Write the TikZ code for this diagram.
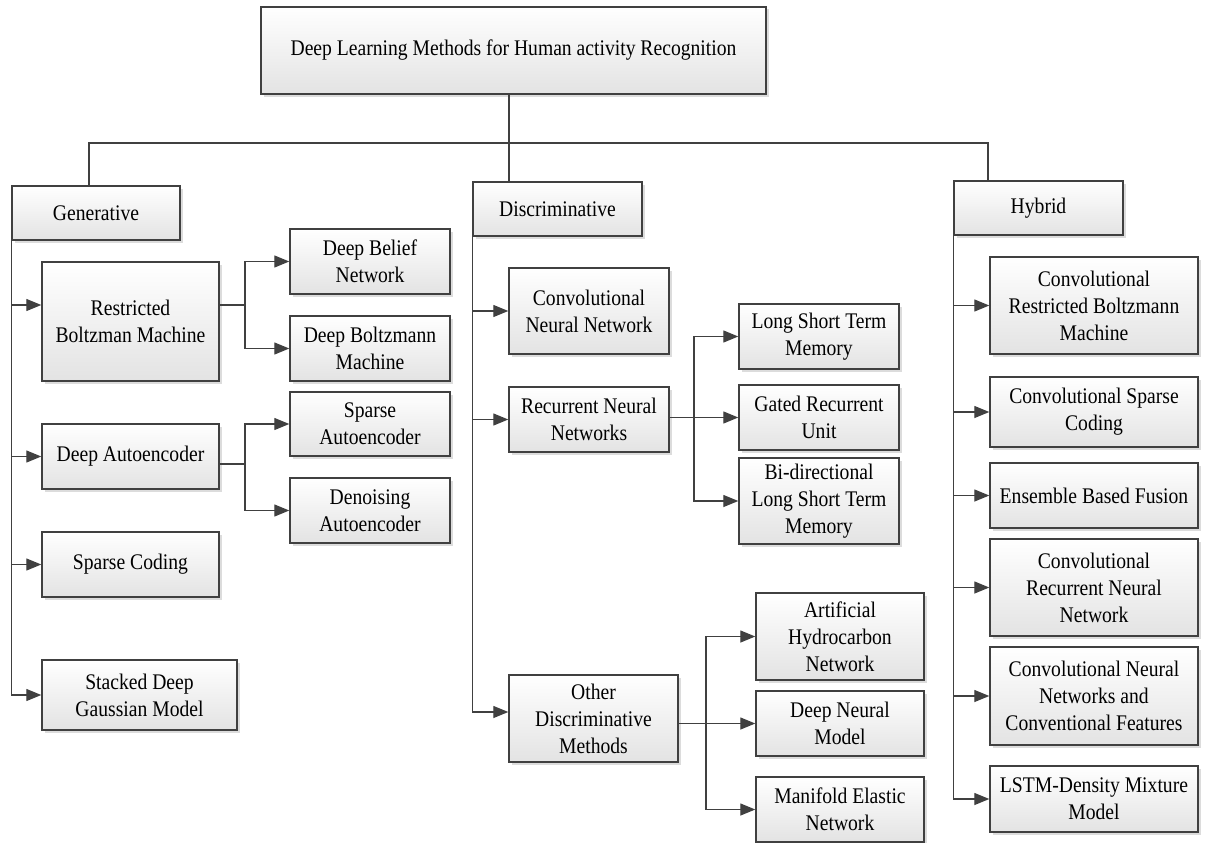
\documentclass[tikz,border=0pt]{standalone}
\usepackage{fontspec}
\setmainfont{Liberation Serif}[FakeStretch=0.88]
\usetikzlibrary{arrows.meta,shadows}
\definecolor{lc}{HTML}{404040}
\begin{document}
\begin{tikzpicture}[x=1pt,y=-1pt,
  box/.style={draw=lc, line width=1.4pt, top color=white, bottom color=black!11,
    align=center, inner sep=2pt, font=\fontsize{22.3}{27}\selectfont,
    drop shadow={shadow xshift=2.5pt, shadow yshift=-2.5pt, fill=black!30, opacity=0.45}},
  ln/.style={draw=lc, line width=1.3pt},
  arr/.style={ln, -{Triangle[length=15pt,width=12pt]}}]
\useasboundingbox (0,0) rectangle (1207,843);
% top
\node[box, minimum width=505pt, minimum height=87pt] (top) at (513.5,50.5) {Deep Learning Methods for Human activity Recognition};
% categories
\node[box, minimum width=168pt, minimum height=54pt] (gen) at (96,213) {Generative};
\node[box, minimum width=169pt, minimum height=54pt] (disc) at (557.5,209) {Discriminative};
\node[box, minimum width=169pt, minimum height=54pt] (hyb) at (1038.5,208) {Hybrid};
% generative
\node[box, minimum width=177pt, minimum height=119pt] (rbm) at (130.5,321.5) {Restricted\\Boltzman Machine};
\node[box, minimum width=160pt, minimum height=65pt] (dbn) at (370,261.5) {Deep Belief\\Network};
\node[box, minimum width=160pt, minimum height=65pt] (dbm) at (370,348.5) {Deep Boltzmann\\Machine};
\node[box, minimum width=177pt, minimum height=65pt] (dae) at (130.5,456.5) {Deep Autoencoder};
\node[box, minimum width=160pt, minimum height=64pt] (sae) at (370,424) {Sparse\\Autoencoder};
\node[box, minimum width=160pt, minimum height=65pt] (dnae) at (370,510.5) {Denoising\\Autoencoder};
\node[box, minimum width=177pt, minimum height=65pt] (sc) at (130.5,564.5) {Sparse Coding};
\node[box, minimum width=195pt, minimum height=70pt] (sdgm) at (139.5,695) {Stacked Deep\\Gaussian Model};
% discriminative
\node[box, minimum width=160pt, minimum height=86pt] (cnn) at (589,311) {Convolutional\\Neural Network};
\node[box, minimum width=160pt, minimum height=65pt] (rnn) at (589,419.5) {Recurrent Neural\\Networks};
\node[box, minimum width=160pt, minimum height=65pt] (lstm) at (819,336.5) {Long Short Term\\Memory};
\node[box, minimum width=160pt, minimum height=65pt] (gru) at (819,417.5) {Gated Recurrent\\Unit};
\node[box, minimum width=160pt, minimum height=86pt] (bilstm) at (819,501) {Bi-directional\\Long Short Term\\Memory};
\node[box, minimum width=169pt, minimum height=87pt] (other) at (593.5,718.5) {Other\\Discriminative\\Methods};
\node[box, minimum width=168pt, minimum height=87pt] (ahn) at (840,636.5) {Artificial\\Hydrocarbon\\Network};
\node[box, minimum width=168pt, minimum height=65pt] (dnm) at (840,723.5) {Deep Neural\\Model};
\node[box, minimum width=168pt, minimum height=65pt] (men) at (840,809.5) {Manifold Elastic\\Network};
% hybrid
\node[box, minimum width=208pt, minimum height=97pt] (crbm) at (1094,305.5) {Convolutional\\Restricted Boltzmann\\Machine};
\node[box, minimum width=208pt, minimum height=70pt] (csc) at (1094,412) {Convolutional Sparse\\Coding};
\node[box, minimum width=208pt, minimum height=65pt] (ebf) at (1094,495.5) {Ensemble Based Fusion};
\node[box, minimum width=208pt, minimum height=97pt] (crnn) at (1094,587.5) {Convolutional\\Recurrent Neural\\Network};
\node[box, minimum width=208pt, minimum height=98pt] (cnncf) at (1094,696) {Convolutional Neural\\Networks and\\Conventional Features};
\node[box, minimum width=208pt, minimum height=66pt] (lstmdm) at (1094,799) {LSTM-Density Mixture\\Model};
% bus
\coordinate (bj) at (509,143);
\coordinate (gd) at (89,143);
\coordinate (hd) at (988,143);
\draw[ln] (top.south -| bj) -- (bj) -- (disc.north -| bj);
\draw[ln] (gen.north -| gd) -- (gd) -- (hd) -- (hyb.north -| hd);
% generative trunk
\draw[arr] (gen.south west) |- ([yshift=16.5pt]rbm.west);
\draw[arr] (gen.south west) |- (dae.west);
\draw[arr] (gen.south west) |- (sc.west);
\draw[arr] (gen.south west) |- (sdgm.west);
\coordinate (b1) at (245,305);
\draw[ln] ([yshift=16.5pt]rbm.east) -- (b1);
\draw[arr] (b1) |- (dbn.west);
\draw[arr] (b1) |- (dbm.west);
\coordinate (b2) at (245,464);
\draw[ln] ([yshift=-7.5pt]dae.east) -- (b2);
\draw[arr] (b2) |- (sae.west);
\draw[arr] (b2) |- (dnae.west);
% discriminative trunk
\draw[arr] (disc.south west) |- (cnn.west);
\draw[arr] (disc.south west) |- (rnn.west);
\draw[arr] (disc.south west) |- ([yshift=6.5pt]other.west);
\coordinate (b3) at (694,417.5);
\draw[arr] (rnn.east |- gru.west) -- (gru.west);
\draw[arr] (b3) |- (lstm.west);
\draw[arr] (b3) |- (bilstm.west);
\coordinate (b4) at (706,723.5);
\draw[arr] (other.east |- dnm.west) -- (dnm.west);
\draw[arr] (b4) |- (ahn.west);
\draw[arr] (b4) |- (men.west);
% hybrid trunk
\draw[arr] (hyb.south west) |- (crbm.west);
\draw[arr] (hyb.south west) |- (csc.west);
\draw[arr] (hyb.south west) |- (ebf.west);
\draw[arr] (hyb.south west) |- (crnn.west);
\draw[arr] (hyb.south west) |- (cnncf.west);
\draw[arr] (hyb.south west) |- (lstmdm.west);
\end{tikzpicture}
\end{document}
